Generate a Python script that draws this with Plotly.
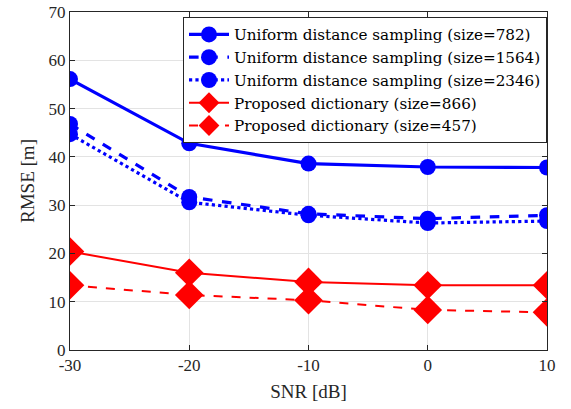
import plotly.graph_objects as go

snr = [-30, -20, -10, 0, 10]
uds_782 = [56.1, 42.8, 38.6, 37.9, 37.8]
uds_1564 = [46.8, 31.7, 28.2, 27.2, 27.9]
uds_2346 = [44.7, 30.6, 27.9, 26.3, 26.7]
prop_866 = [20.4, 16.0, 14.1, 13.4, 13.4]
prop_457 = [13.4, 11.4, 10.3, 8.3, 7.8]

names = [
    "Uniform distance sampling (size=782)",
    "Uniform distance sampling (size=1564)",
    "Uniform distance sampling (size=2346)",
    "Proposed dictionary (size=866)",
    "Proposed dictionary (size=457)",
]

x_ticks = [-30, -20, -10, 0, 10]
y_ticks = [0, 10, 20, 30, 40, 50, 60, 70]

FONT = "Liberation Serif"
LFONT = "DejaVu Serif"
TXT = "#262626"

fig = go.Figure()
series = [
    (uds_782, "#0000ff", "solid", 3.2, "circle", 16),
    (uds_1564, "#0000ff", "dash", 3.2, "circle", 16),
    (uds_2346, "#0000ff", "dot", 3.2, "circle", 16),
    (prop_866, "#ff0000", "solid", 2.0, "diamond", 22),
    (prop_457, "#ff0000", "dash", 2.0, "diamond", 22),
]
for (vals, col, dash, lw, sym, ms), nm in zip(series, names):
    fig.add_trace(go.Scatter(
        x=snr, y=vals, name=nm, mode="lines+markers",
        line=dict(color=col, dash=dash, width=lw),
        marker=dict(symbol=sym, size=ms, color=col, line=dict(width=0)),
    ))

axis_common = dict(
    showline=True, linecolor=TXT, linewidth=1, mirror="ticks",
    ticks="inside", ticklen=5, tickcolor=TXT,
    showgrid=True, gridcolor="#e3e3e3", gridwidth=1,
    zeroline=False, automargin=False, ticklabeloverflow="allow",
    tickfont=dict(family=FONT, size=17, color=TXT),
)

fig.update_layout(
    width=571, height=409,
    margin=dict(l=70, r=24, t=12, b=59),
    paper_bgcolor="white", plot_bgcolor="white",
    font=dict(family=FONT, color=TXT),
    showlegend=True,
    legend=dict(
        x=1.0, y=0.985, xanchor="right", yanchor="top",
        bgcolor="white", bordercolor=TXT, borderwidth=1,
        font=dict(family=LFONT, size=15.2, color="black"),
        itemwidth=40, tracegroupgap=0,
    ),
    xaxis=dict(
        range=[-30, 10], tickvals=x_ticks, ticktext=[str(v) for v in x_ticks],
        title=dict(text="SNR [dB]", font=dict(family=FONT, size=19, color=TXT), standoff=10),
        **axis_common,
    ),
    yaxis=dict(
        range=[0, 70], tickvals=y_ticks,
        title=dict(text="RMSE [m]", font=dict(family=FONT, size=19, color=TXT), standoff=8),
        **axis_common,
    ),
)

fig.write_html(
    "out.html",
    config={"displayModeBar": False},
    post_script="document.body.style.margin='0';document.body.style.overflow='hidden';",
)
